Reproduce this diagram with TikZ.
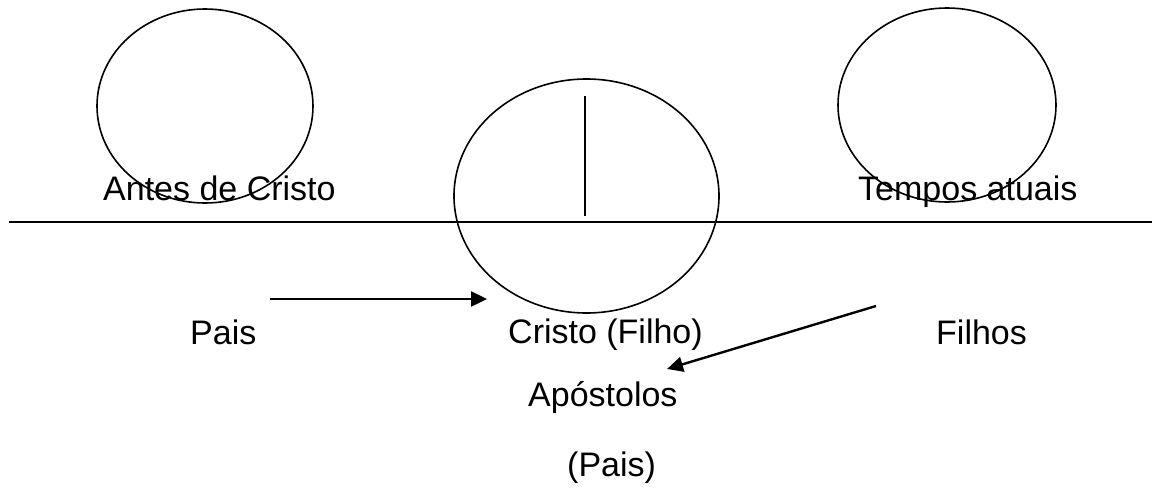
\documentclass[tikz,border=0pt]{standalone}
\usepackage{fontspec}
\setmainfont{Liberation Sans}
\usetikzlibrary{arrows.meta}
\begin{document}
\begin{tikzpicture}[x=1pt,y=-1pt,
  ring/.style={draw=black,line width=1.6pt},
  rule/.style={draw=black,line width=1.5pt},
  pointer/.style={draw=black,line width=2.4pt,-{Triangle[length=16pt,width=15pt]}},
  label/.style={inner sep=0pt,anchor=base west,font=\fontsize{34}{40}\selectfont}]
\useasboundingbox (0,0) rectangle (1152,493);

% circles for the three periods
\draw[ring] (205,106) ellipse [x radius=108pt,y radius=97pt];
\draw[ring] (586.5,196) ellipse [x radius=132.5pt,y radius=117pt];
\draw[ring] (947,105) ellipse [x radius=109pt,y radius=97pt];

% time line and the mark at Christ
\coordinate (lineL) at (9,222);
\coordinate (lineR) at (1152,222);
\draw[rule] (lineL) -- (lineR);
\coordinate (markT) at (585,96);
\coordinate (markB) at (585,216);
\draw[rule] (markT) -- (markB);

% texts
\node[label] (antes) at (103,200) {Antes de Cristo};
\node[label] (tempos) at (858,200) {Tempos atuais};
\node[label] (pais) at (190,344) {Pais};
\node[label] (cristo) at (508,343) {Cristo (Filho)};
\node[label] (filhos) at (936,344) {Filhos};
\node[label] (apost) at (528,406) {Apóstolos};
\node[label] (paisb) at (567,476) {(Pais)};

% arrows
\coordinate (a1s) at (270,299);
\coordinate (a1e) at (487,299);
\draw[pointer] (a1s) -- (a1e);
\coordinate (a2s) at (876,306);
\coordinate (a2e) at (667,369);
\draw[pointer] (a2s) -- (a2e);
\end{tikzpicture}
\end{document}
